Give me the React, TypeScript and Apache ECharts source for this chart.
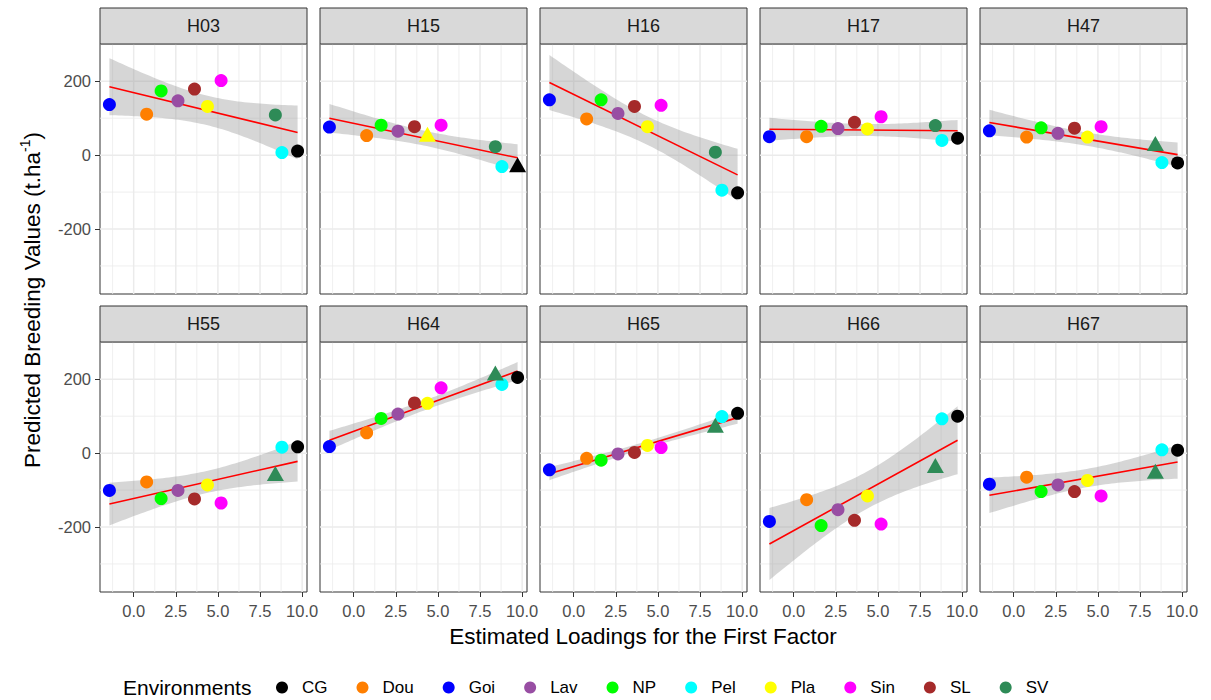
import React, { useEffect, useRef } from "react";
import * as echarts from "echarts";

// ---------- data ----------
const environments = ["CG", "Dou", "Goi", "Lav", "NP", "Pel", "Pla", "Sin", "SL", "SV"];
const envColors = ["#000000", "#FF7F00", "#0000FF", "#984EA3", "#00FF00", "#00FFFF", "#FFFF00", "#FF00FF", "#A52A2A", "#2E8B57"];
// estimated loadings for the first factor (same order as environments)
const loadings = [9.73, 0.77, -1.44, 2.63, 1.63, 8.8, 4.38, 5.19, 3.61, 8.41];

const hybrids = ["H03", "H15", "H16", "H17", "H47", "H55", "H64", "H65", "H66", "H67"];
// predicted breeding values, environment order: CG, Dou, Goi, Lav, NP, Pel, Pla, Sin, SL, SV
const H03 = [11, 111, 137, 147, 174, 7, 132, 202, 179, 109];
const H15 = [-33, 53, 76, 65, 81, -31, 50, 81, 77, 23];
const H16 = [-102, 98, 150, 113, 150, -95, 77, 135, 132, 8];
const H17 = [46, 50, 50, 72, 78, 40, 71, 104, 89, 80];
const H47 = [-21, 49, 66, 59, 74, -20, 49, 77, 73, 25];
const H55 = [17, -78, -101, -101, -123, 16, -86, -135, -124, -62];
const H64 = [205, 55, 18, 106, 94, 186, 135, 177, 136, 210];
const H65 = [108, -14, -45, -2, -19, 99, 21, 15, 2, 69];
const H66 = [100, -126, -185, -153, -196, 93, -116, -192, -182, -40];
const H67 = [8, -65, -84, -86, -104, 9, -74, -116, -104, -56];
const hybridValues = [H03, H15, H16, H17, H47, H55, H64, H65, H66, H67];

// environments drawn as triangles in each panel
const triangleEnvs: string[][] = [[], ["Pla", "CG"], [], [], ["SV"], ["SV"], ["SV"], ["SV"], ["SV"], ["SV"]];

// axis ticks / grid values
const xMajor = [0, 2.5, 5, 7.5, 10];
const xMinor = [-1.25, 1.25, 3.75, 6.25, 8.75];
const yMajor = [-200, 0, 200];
const yMinor = [-300, -100, 100, 300];
const yLimits = [-376, 301];

const T_975_DF8 = 2.306;

// ---------- layout ----------
const FONT = "'Liberation Sans', Arial, Helvetica, sans-serif";
const colLeft = [100, 320, 540, 760, 980];
const rowTop = [44, 342];
const PANEL_W = 207;
const PANEL_H = 250;
const STRIP_H = 36;

function lmFit(xs: number[], ys: number[]) {
  const n = xs.length;
  const mx = xs.reduce((a, b) => a + b, 0) / n;
  const my = ys.reduce((a, b) => a + b, 0) / n;
  let sxx = 0, sxy = 0;
  for (let i = 0; i < n; i++) {
    sxx += (xs[i] - mx) ** 2;
    sxy += (xs[i] - mx) * (ys[i] - my);
  }
  const b = sxy / sxx;
  const a = my - b * mx;
  let sse = 0;
  for (let i = 0; i < n; i++) sse += (ys[i] - (a + b * xs[i])) ** 2;
  const s = Math.sqrt(sse / (n - 2));
  return { a, b, s, mx, sxx, n };
}

export default function App() {
  const ref = useRef<HTMLDivElement>(null);

  useEffect(() => {
    if (!ref.current) return;
    const chart = echarts.init(ref.current, undefined, { renderer: "svg" });

    const xlo = Math.min(...loadings);
    const xhi = Math.max(...loadings);
    const xr = xhi - xlo;
    const xMin = xlo - 0.05 * xr;
    const xMax = xhi + 0.05 * xr;

    const grids: any[] = [];
    const xAxes: any[] = [];
    const yAxes: any[] = [];
    const series: any[] = [];
    const graphics: any[] = [];

    hybrids.forEach((h, i) => {
      const r = Math.floor(i / 5);
      const c = i % 5;
      const bottomRow = r === 1;
      const leftCol = c === 0;
      const left = colLeft[c];
      const top = rowTop[r];

      grids.push({
        left, top, width: PANEL_W, height: PANEL_H,
        show: true, borderColor: "#333333", borderWidth: 1, backgroundColor: "#FFFFFF",
        containLabel: false,
      });
      xAxes.push({
        type: "value", gridIndex: i, min: xMin, max: xMax,
        axisLine: { show: false, onZero: false },
        axisTick: { show: bottomRow, customValues: xMajor, length: 5, lineStyle: { color: "#333333", width: 1 } },
        axisLabel: {
          show: bottomRow, customValues: xMajor, formatter: (v: number) => v.toFixed(1),
          fontSize: 16.5, color: "#4D4D4D", margin: 10, fontFamily: FONT,
        },
        splitLine: { show: false },
      });
      yAxes.push({
        type: "value", gridIndex: i, min: yLimits[0], max: yLimits[1],
        axisLine: { show: false, onZero: false },
        axisTick: { show: leftCol, customValues: yMajor, length: 5, lineStyle: { color: "#333333", width: 1 } },
        axisLabel: {
          show: leftCol, customValues: yMajor, formatter: (v: number) => String(v),
          fontSize: 16.5, color: "#4D4D4D", margin: 9, fontFamily: FONT,
        },
        splitLine: { show: false },
      });

      const ys = hybridValues[i];
      const fit = lmFit(loadings, ys);
      const N = 60;
      const upper: number[][] = [];
      const lower: number[][] = [];
      for (let k = 0; k <= N; k++) {
        const x = xlo + (xhi - xlo) * (k / N);
        const yhat = fit.a + fit.b * x;
        const se = fit.s * Math.sqrt(1 / fit.n + (x - fit.mx) ** 2 / fit.sxx);
        upper.push([x, yhat + T_975_DF8 * se]);
        lower.push([x, yhat - T_975_DF8 * se]);
      }

      // grid lines + confidence band
      series.push({
        type: "custom", xAxisIndex: i, yAxisIndex: i, silent: true, z: 1,
        data: [[0, 0]],
        renderItem: (params: any, api: any) => {
          const cs = params.coordSys;
          const children: any[] = [];
          const vline = (v: number, w: number) => {
            const px = api.coord([v, 0])[0];
            children.push({ type: "line", shape: { x1: px, y1: cs.y, x2: px, y2: cs.y + cs.height }, style: { stroke: "#EBEBEB", lineWidth: w } });
          };
          const hline = (v: number, w: number) => {
            const py = api.coord([0, v])[1];
            children.push({ type: "line", shape: { x1: cs.x, y1: py, x2: cs.x + cs.width, y2: py }, style: { stroke: "#EBEBEB", lineWidth: w } });
          };
          xMinor.forEach((v) => vline(v, 0.8));
          yMinor.forEach((v) => hline(v, 0.8));
          xMajor.forEach((v) => vline(v, 1.5));
          yMajor.forEach((v) => hline(v, 1.5));
          const pts = upper.map((p) => api.coord(p)).concat(lower.slice().reverse().map((p) => api.coord(p)));
          children.push({ type: "polygon", shape: { points: pts }, style: { fill: "rgba(153,153,153,0.4)" } });
          return { type: "group", children };
        },
      });

      // regression line
      series.push({
        type: "line", name: "fit " + h, xAxisIndex: i, yAxisIndex: i, silent: true, z: 2,
        data: [[xlo, fit.a + fit.b * xlo], [xhi, fit.a + fit.b * xhi]],
        symbol: "none", showSymbol: false,
        lineStyle: { color: "#FF0000", width: 1.6 },
      });

      // points
      environments.forEach((env, e) => {
        const tri = triangleEnvs[i].includes(env);
        series.push({
          type: "scatter", name: env, xAxisIndex: i, yAxisIndex: i, z: 3,
          itemStyle: { color: envColors[e], opacity: 1 },
          symbol: "circle", symbolSize: 13,
          data: [
            tri
              ? { value: [loadings[e], ys[e]], symbol: "triangle", symbolSize: [17, 15], symbolOffset: [0, -2.5] }
              : { value: [loadings[e], ys[e]] },
          ],
        });
      });

      // strip
      graphics.push({
        type: "rect", shape: { x: left, y: top - STRIP_H, width: PANEL_W, height: STRIP_H },
        style: { fill: "#D9D9D9", stroke: "#333333", lineWidth: 1 }, z: 10,
      });
      graphics.push({
        type: "text", x: left + PANEL_W / 2, y: top - STRIP_H / 2, z: 11,
        style: {
          text: h, fontSize: 18, fill: "#1A1A1A", fontFamily: FONT,
          textAlign: "center", textVerticalAlign: "middle", align: "center", verticalAlign: "middle",
        },
      });
    });

    graphics.push({
      type: "text", x: 643, y: 636,
      style: {
        text: "Estimated Loadings for the First Factor", fontSize: 22.5, fill: "#000000", fontFamily: FONT,
        textAlign: "center", textVerticalAlign: "middle", align: "center", verticalAlign: "middle",
      },
    });
    graphics.push({
      type: "text", x: 32, y: 300, rotation: Math.PI / 2,
      style: {
        text: "Predicted Breeding Values (t.ha{sup|-1})", fontSize: 22.5, fill: "#000000", fontFamily: FONT,
        lineHeight: 28,
        rich: { sup: { fontSize: 14, lineHeight: 14, verticalAlign: "top", fill: "#000000", fontFamily: FONT } },
        textAlign: "center", textVerticalAlign: "middle", align: "center", verticalAlign: "middle",
      },
    });
    graphics.push({
      type: "text", x: 123, y: 687,
      style: {
        text: "Environments", fontSize: 21, fill: "#000000", fontFamily: FONT,
        textAlign: "left", textVerticalAlign: "middle", align: "left", verticalAlign: "middle",
      },
    });

    chart.setOption({
      animation: false,
      backgroundColor: "#FFFFFF",
      textStyle: { fontFamily: FONT },
      grid: grids,
      xAxis: xAxes,
      yAxis: yAxes,
      series,
      graphic: graphics,
      legend: {
        data: environments.map((name) => ({ name, icon: "circle" })),
        left: 276, top: 679, orient: "horizontal", padding: 0,
        itemWidth: 30, itemHeight: 12, itemGap: 29,
        selectedMode: false,
        textStyle: { fontSize: 17, color: "#000000", fontFamily: FONT },
      },
    });

    return () => chart.dispose();
  }, []);

  return <div ref={ref} style={{ position: "fixed", left: 0, top: 0, width: 1211, height: 700 }} />;
}
